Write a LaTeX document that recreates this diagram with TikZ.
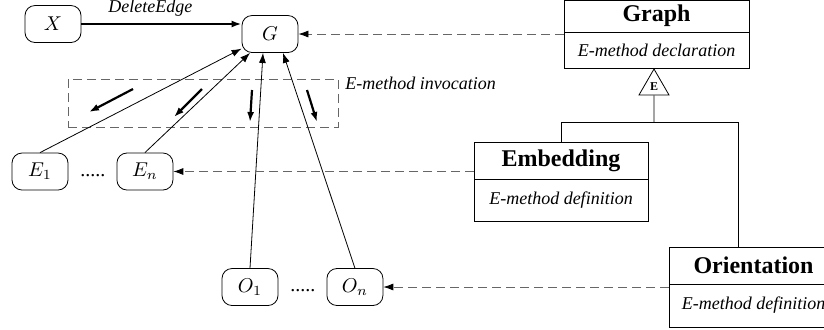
\documentclass[tikz,border=0pt]{standalone}
\usepackage[no-math]{fontspec}
\setmainfont{Liberation Serif}
\usetikzlibrary{positioning, shapes.geometric, arrows.meta}

\begin{document}
\begin{tikzpicture}[x=0.5pt, y=-0.5pt, >={Latex[length=5pt,width=3.5pt]},
  var/.style={draw, rounded corners=5pt, minimum width=28pt, minimum height=18.5pt, inner sep=1pt},
  cls/.style={draw, outer sep=0pt, inner sep=1pt, font=\large\bfseries},
  clsbody/.style={draw, outer sep=0pt, inner sep=1pt, font=\small\itshape},
  invoke/.style={dash pattern=on 4.5pt off 2.5pt, draw=black!60, -{Latex[length=5pt,width=3.5pt,color=black]}},
  call/.style={->, line width=1.1pt}]
\useasboundingbox (0,0) rectangle (824,329);

\node (X) [var] at (53,24) {$X$};
\node (G) [var] at (270,34) {$G$};
\node (E1) [var] at (40,171.5) {$E_1$};
\node (edots) [right=2.5pt of E1] {\strut.....};
\node (En) [var, right=2pt of edots] {$E_n$};
\node (O1) [var] at (250,287) {$O_1$};
\node (odots) [right=2.5pt of O1] {\strut.....};
\node (On) [var, right=2pt of odots] {$O_n$};

\node (graph) [cls, minimum width=92.5pt, minimum height=16pt] at (656.5,16) {Graph};
\node (graphbody) [clsbody, below=0pt of graph, minimum width=92.5pt, minimum height=18pt] {E-method declaration};
\node (inh) [draw, regular polygon, regular polygon sides=3, minimum size=17.3pt, inner sep=0pt, font=\fontsize{6}{7}\selectfont\bfseries] at (654,86.3) {E};
\node (emb) [cls, minimum width=87pt, minimum height=18.5pt] at (561,160.5) {Embedding};
\node (embbody) [clsbody, below=0pt of emb, minimum width=87pt, minimum height=21pt] {E-method definition};
\node (ori) [cls, minimum width=84.5pt, minimum height=18.5pt] at (753.5,265.5) {Orientation};
\node (oribody) [clsbody, below=0pt of ori, minimum width=84.5pt, minimum height=21.5pt] {E-method definition};

\coordinate (fork) at (654,122);
\draw (inh.south) -- (fork);
\draw (emb.north) |- (fork) -| ([xshift=-7.5pt]ori.north);

\node (inv) [draw, dash pattern=on 4.5pt off 2.5pt, black!60, minimum width=135pt, minimum height=24pt] at (203,103) {};
\node (invlabel) [anchor=west, font=\small\itshape] at ([yshift=-2.5pt]inv.north east) {E-method invocation};

\coordinate (a1s) at (133,89); \coordinate (a1e) at (89,112);
\coordinate (a2s) at (202,89); \coordinate (a2e) at (174,117);
\coordinate (a3s) at (252,90); \coordinate (a3e) at (250,122);
\coordinate (a4s) at (307,90); \coordinate (a4e) at (317,122);
\foreach \i in {1,...,4}
  \draw[call] (a\i s) -- (a\i e);

\draw[call] (X.east) -- (X.east -| G.west) node[above, pos=0.43, font=\small\itshape] {DeleteEdge};
\draw[->] (E1.north) -- (G);
\draw[->] (En.north) -- (G);
\draw[->] (O1.north) -- ([xshift=-3.5pt]G.south);
\draw[->] (On.north) -- ([xshift=6.5pt]G.south);

\draw[invoke] (graphbody.west |- G) -- (G);
\draw[invoke] (emb.west |- En) -- (En);
\draw[invoke] (ori.west |- On) -- (On);
\end{tikzpicture}
\end{document}
